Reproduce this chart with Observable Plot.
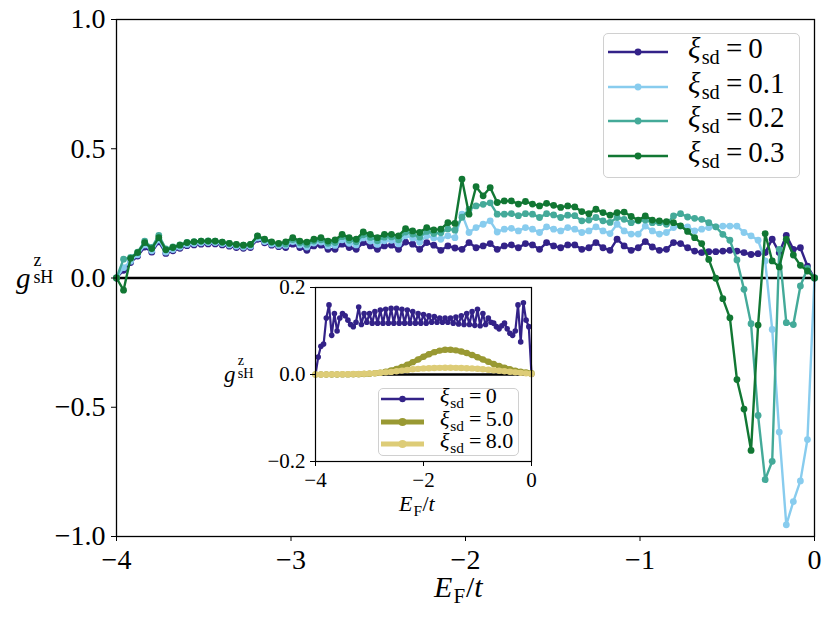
<!DOCTYPE html>
<html>
<head>
<meta charset="utf-8">
<script src="https://cdn.jsdelivr.net/npm/d3@7"></script>
<script src="https://cdn.jsdelivr.net/npm/@observablehq/plot@0.6"></script>
<style>
  body { margin: 0; background: white; }
  #wrap { position: relative; width: 830px; height: 623px; background: white; font-family: "Liberation Serif", "DejaVu Serif", serif; color: black; }
  .lab { position: absolute; white-space: nowrap; line-height: 1; }
  .it { font-style: italic; }
  .sub { font-size: 0.7em; position: relative; top: 0.3em; margin-left: 0.06em; margin-right: 0.03em; }
  .stk { display: inline-block; position: relative; width: 1.1em; height: 1em; vertical-align: baseline; }
  .stk .up { position: absolute; left: 0.16em; top: -0.44em; font-size: 0.62em; line-height: 1; }
  .stk .dn { position: absolute; left: 0.16em; top: 0.5em; font-size: 0.62em; line-height: 1; }
  .legend { position: absolute; border: 1px solid #d0d0d0; border-radius: 5px; background: rgba(255,255,255,0.85); }
</style>
</head>
<body>
<div id="wrap"></div>
<script>
// ---------------- data ----------------
const seriesNames = ["ξsd = 0", "ξsd = 0.1", "ξsd = 0.2", "ξsd = 0.3"];
const seriesLabels = ["0", "0.1", "0.2", "0.3"];
const seriesColors = ["#332288", "#88CCEE", "#44AA99", "#117733"];

// E_F grid of the main panel: 100 points from -4 to 0
const EF = d3.range(100).map(i => -4 + 4 * i / 99);

const g00 = [0, 0.03, 0.06, 0.085, 0.12, 0.10, 0.14, 0.095, 0.105, 0.115,
  0.125, 0.128, 0.131, 0.132, 0.132, 0.128, 0.123, 0.118, 0.115, 0.118,
  0.15, 0.136, 0.127, 0.121, 0.118, 0.131, 0.118, 0.107, 0.124, 0.127,
  0.111, 0.111, 0.131, 0.118, 0.111, 0.137, 0.124, 0.111, 0.124, 0.127,
  0.111, 0.139, 0.131, 0.111, 0.137, 0.127, 0.107, 0.124, 0.116, 0.111,
  0.137, 0.117, 0.124, 0.133, 0.111, 0.124, 0.128, 0.117, 0.133, 0.128,
  0.111, 0.137, 0.124, 0.117, 0.128, 0.128, 0.111, 0.117, 0.137, 0.117,
  0.107, 0.150, 0.124, 0.107, 0.117, 0.141, 0.120, 0.107, 0.111, 0.137,
  0.133, 0.117, 0.104, 0.098, 0.102, 0.102, 0.104, 0.107, 0.104, 0.098,
  0.091, 0.094, 0.098, 0.150, 0.098, 0.165, 0.111, 0.117, 0.046, 0];

const g01 = [0, 0.04, 0.065, 0.09, 0.128, 0.105, 0.148, 0.10, 0.11, 0.12,
  0.13, 0.133, 0.136, 0.137, 0.137, 0.133, 0.128, 0.123, 0.12, 0.123,
  0.155, 0.141, 0.132, 0.126, 0.126, 0.141, 0.128, 0.12, 0.135, 0.139,
  0.124, 0.126, 0.148, 0.134, 0.128, 0.155, 0.143, 0.13, 0.144, 0.146,
  0.132, 0.163, 0.155, 0.138, 0.163, 0.155, 0.150, 0.163, 0.156, 0.247,
  0.176, 0.195, 0.208, 0.221, 0.178, 0.189, 0.192, 0.182, 0.195, 0.189,
  0.176, 0.198, 0.189, 0.182, 0.195, 0.189, 0.176, 0.182, 0.198, 0.182,
  0.172, 0.208, 0.182, 0.170, 0.170, 0.201, 0.182, 0.170, 0.176, 0.195,
  0.201, 0.198, 0.182, 0.189, 0.195, 0.198, 0.201, 0.201, 0.201, 0.176,
  0.163, 0.146, 0.066, -0.199, -0.596, -0.955, -0.865, -0.785, -0.625, 0];

const g02 = [0, 0.073, 0.08, 0.10, 0.143, 0.118, 0.165, 0.113, 0.12, 0.128,
  0.138, 0.141, 0.143, 0.144, 0.143, 0.139, 0.134, 0.129, 0.127, 0.13,
  0.162, 0.148, 0.138, 0.132, 0.132, 0.149, 0.136, 0.13, 0.143, 0.148,
  0.134, 0.137, 0.16, 0.146, 0.14, 0.167, 0.157, 0.144, 0.158, 0.159,
  0.148, 0.178, 0.17, 0.158, 0.18, 0.172, 0.175, 0.19, 0.185, 0.235,
  0.265, 0.279, 0.285, 0.291, 0.247, 0.247, 0.249, 0.241, 0.249, 0.247,
  0.234, 0.249, 0.244, 0.234, 0.243, 0.241, 0.221, 0.224, 0.234, 0.221,
  0.215, 0.234, 0.227, 0.214, 0.221, 0.224, 0.214, 0.214, 0.208, 0.240,
  0.249, 0.236, 0.231, 0.227, 0.214, 0.198, 0.169, 0.146, 0.070, -0.044,
  -0.177, -0.532, -0.780, -0.709, 0.111, -0.173, -0.180, -0.031, 0.037, 0];

const g03 = [0, -0.047, 0.076, 0.098, 0.137, 0.114, 0.156, 0.109, 0.118, 0.127,
  0.137, 0.140, 0.143, 0.143, 0.143, 0.139, 0.134, 0.130, 0.127, 0.130,
  0.163, 0.150, 0.140, 0.134, 0.140, 0.156, 0.143, 0.139, 0.150, 0.156,
  0.143, 0.147, 0.169, 0.156, 0.150, 0.178, 0.169, 0.156, 0.169, 0.169,
  0.163, 0.191, 0.182, 0.176, 0.195, 0.186, 0.189, 0.214, 0.211, 0.382,
  0.247, 0.353, 0.318, 0.350, 0.292, 0.298, 0.298, 0.286, 0.296, 0.286,
  0.279, 0.289, 0.281, 0.273, 0.279, 0.275, 0.257, 0.249, 0.266, 0.253,
  0.243, 0.253, 0.255, 0.238, 0.224, 0.240, 0.224, 0.221, 0.218, 0.214,
  0.202, 0.180, 0.156, 0.133, 0.072, -0.001, -0.080, -0.154, -0.393, -0.507,
  -0.667, -0.182, 0.172, 0.066, 0.043, 0.150, 0.089, 0.049, 0.027, 0];

// inset
const insetNames = ["ξsd = 0", "ξsd = 5.0", "ξsd = 8.0"];
const insetLabels = ["0", "5.0", "8.0"];
const insetColors = ["#332288", "#999933", "#DDCC77"];
const EFinA = d3.range(81).map(i => -4 + i * 0.05);   // step 0.05
const EFinB = d3.range(41).map(i => -4 + i * 0.1);    // step 0.1

const h00 = [0.00, 0.04, 0.065, 0.07, 0.13, 0.16, 0.09, 0.14, 0.10, 0.13,
  0.14, 0.135, 0.125, 0.115, 0.11, 0.12, 0.155, 0.115, 0.14, 0.12,
  0.14, 0.118, 0.145, 0.118, 0.148, 0.118, 0.15, 0.118, 0.152, 0.118,
  0.152, 0.118, 0.15, 0.118, 0.148, 0.118, 0.145, 0.118, 0.14, 0.118,
  0.138, 0.118, 0.135, 0.12, 0.133, 0.12, 0.13, 0.12, 0.13, 0.12,
  0.13, 0.118, 0.132, 0.116, 0.135, 0.115, 0.14, 0.115, 0.145, 0.113,
  0.15, 0.112, 0.14, 0.115, 0.13, 0.12, 0.118, 0.11, 0.105, 0.112,
  0.118, 0.105, 0.095, 0.09, 0.10, 0.16, 0.075, 0.165, 0.125, 0.11, 0.0];

const h50 = [0.0000, 0.0000, 0.0001, 0.0001, 0.0001, 0.0002, 0.0002, 0.0003, 0.0006, 0.0011,
  0.0018, 0.0028, 0.0043, 0.0064, 0.0092, 0.0128, 0.0173, 0.0225, 0.0284, 0.0346,
  0.0408, 0.0466, 0.0514, 0.0549, 0.0568, 0.0570, 0.0555, 0.0529, 0.0493, 0.0448,
  0.0398, 0.0346, 0.0293, 0.0242, 0.0196, 0.0155, 0.0119, 0.0090, 0.0066, 0.0047,
  0.0030];

const h80 = [0.000, 0.000, 0.0002, 0.0003, 0.0004, 0.0005, 0.0008, 0.001, 0.0014, 0.0018,
  0.0024, 0.003, 0.004, 0.005, 0.006, 0.0075, 0.009, 0.0105, 0.012, 0.013,
  0.014, 0.0145, 0.015, 0.0153, 0.0155, 0.0155, 0.0153, 0.015, 0.0145, 0.014,
  0.0132, 0.0122, 0.011, 0.0098, 0.0086, 0.0074, 0.0062, 0.005, 0.0038, 0.0026, 0.0012];

// ---------------- build ----------------
const mainData = [g00, g01, g02, g03].map((arr, k) => arr.map((v, i) => ({x: EF[i], y: v, s: seriesNames[k]})));
const insetData = [
  h00.map((v, i) => ({x: EFinA[i], y: v, s: insetNames[0]})),
  h50.map((v, i) => ({x: EFinB[i], y: v, s: insetNames[1]})),
  h80.map((v, i) => ({x: EFinB[i], y: v, s: insetNames[2]}))
];

const wrap = document.getElementById("wrap");
const FONT = "'Liberation Serif', 'DejaVu Serif', serif";

const mainMarks = [Plot.ruleY([0], {stroke: "black", strokeWidth: 2.5})];
mainData.forEach((rows, k) => {
  mainMarks.push(Plot.line(rows, {x: "x", y: "y", stroke: seriesColors[k], strokeWidth: 2.4}));
  mainMarks.push(Plot.dot(rows, {x: "x", y: "y", fill: seriesColors[k], r: 3.4}));
});
mainMarks.push(Plot.frame({stroke: "black", strokeWidth: 1.3}));
mainMarks.push(Plot.axisX({ticks: [-4, -3, -2, -1, 0], tickFormat: d3.format("d"), label: null, tickSize: 5, tickPadding: 8, fontSize: 28}));
mainMarks.push(Plot.axisY({ticks: [-1, -0.5, 0, 0.5, 1], tickFormat: d3.format(".1f"), label: null, tickSize: 5, tickPadding: 6, fontSize: 28}));

const mainPlot = Plot.plot({
  width: 830, height: 623,
  marginLeft: 116, marginRight: 16, marginTop: 19, marginBottom: 87,
  style: {fontFamily: FONT, fontSize: "28px", color: "black", background: "white", overflow: "visible"},
  x: {domain: [-4, 0]},
  y: {domain: [-1, 1]},
  marks: mainMarks
});
mainPlot.style.position = "absolute";
mainPlot.style.left = "0px";
mainPlot.style.top = "0px";
wrap.appendChild(mainPlot);

// inset
const iML = 80, iMR = 10, iMT = 10, iMB = 40;
const insetMarks = [Plot.frame({fill: "white"}), Plot.ruleY([0], {stroke: "black", strokeWidth: 2.5})];
insetData.forEach((rows, k) => {
  if (k === 0) {
    insetMarks.push(Plot.line(rows, {x: "x", y: "y", stroke: insetColors[k], strokeWidth: 2.2}));
    insetMarks.push(Plot.dot(rows, {x: "x", y: "y", fill: insetColors[k], r: 2.8}));
  } else {
    insetMarks.push(Plot.line(rows, {x: "x", y: "y", stroke: insetColors[k], strokeWidth: 5}));
    insetMarks.push(Plot.dot(rows, {x: "x", y: "y", fill: insetColors[k], r: 3.2}));
  }
});
insetMarks.push(Plot.frame({stroke: "black", strokeWidth: 1.2}));
insetMarks.push(Plot.axisX({ticks: [-4, -2, 0], tickFormat: d3.format("d"), label: null, tickSize: 5, tickPadding: 6, fontSize: 21}));
insetMarks.push(Plot.axisY({ticks: [-0.2, 0, 0.2], tickFormat: d3.format(".1f"), label: null, tickSize: 5, tickPadding: 5, fontSize: 21}));

const insetPlot = Plot.plot({
  width: 216 + iML + iMR, height: 174 + iMT + iMB,
  marginLeft: iML, marginRight: iMR, marginTop: iMT, marginBottom: iMB,
  style: {fontFamily: FONT, fontSize: "21px", color: "black", background: "transparent", overflow: "visible"},
  x: {domain: [-4, 0]},
  y: {domain: [-0.2, 0.2]},
  marks: insetMarks
});
insetPlot.style.position = "absolute";
insetPlot.style.left = (315 - iML) + "px";
insetPlot.style.top = (287 - iMT) + "px";
wrap.appendChild(insetPlot);

// ---------------- labels ----------------
function addLabel(html, left, top, size) {
  const d = document.createElement("div");
  d.className = "lab";
  d.style.left = left + "px";
  d.style.top = top + "px";
  d.style.fontSize = size + "px";
  d.innerHTML = html;
  wrap.appendChild(d);
  return d;
}
const gLabel = '<span class="it">g</span><span class="stk"><span class="up">z</span><span class="dn">sH</span></span>';
const eLabel = '<span class="it">E</span><span class="sub">F</span>/<span class="it">t</span>';

addLabel(gLabel, 16, 259, 29);
addLabel(eLabel, 434, 572, 30);
addLabel(gLabel, 224, 359, 23);
addLabel(eLabel, 399, 493, 22);

// ---------------- legends ----------------
function addLegend(left, top, w, h, rowYs, names, colors, lineW, dotR, lineX0, lineX1, textX, fontSize) {
  const box = document.createElement("div");
  box.className = "legend";
  box.style.left = left + "px";
  box.style.top = top + "px";
  box.style.width = w + "px";
  box.style.height = h + "px";
  wrap.appendChild(box);
  const svg = d3.create("svg").attr("width", w).attr("height", h).style("position", "absolute").style("left", "0px").style("top", "0px");
  names.forEach((n, k) => {
    svg.append("line").attr("x1", lineX0).attr("x2", lineX1).attr("y1", rowYs[k]).attr("y2", rowYs[k])
      .attr("stroke", colors[k]).attr("stroke-width", lineW[k]);
    svg.append("circle").attr("cx", (lineX0 + lineX1) / 2).attr("cy", rowYs[k]).attr("r", dotR[k]).attr("fill", colors[k]);
    const t = document.createElement("div");
    t.className = "lab";
    t.style.left = textX + "px";
    t.style.top = (rowYs[k] - fontSize * 0.62) + "px";
    t.style.fontSize = fontSize + "px";
    t.innerHTML = '<span class="it">ξ</span><span class="sub">sd</span>&#8201;=&#8201;' + n;
    box.appendChild(t);
  });
  box.appendChild(svg.node());
}

addLegend(603, 33, 195, 143, [18, 53, 87, 122], seriesLabels, seriesColors,
  [2.6, 2.6, 2.6, 2.6], [3.4, 3.4, 3.4, 3.4], 4, 64, 84, 29);
addLegend(378, 388, 139, 66, [10, 33, 55], insetLabels, insetColors,
  [2.4, 5, 5], [3.2, 4, 4], 2, 45, 61, 22);
</script>
</body>
</html>
